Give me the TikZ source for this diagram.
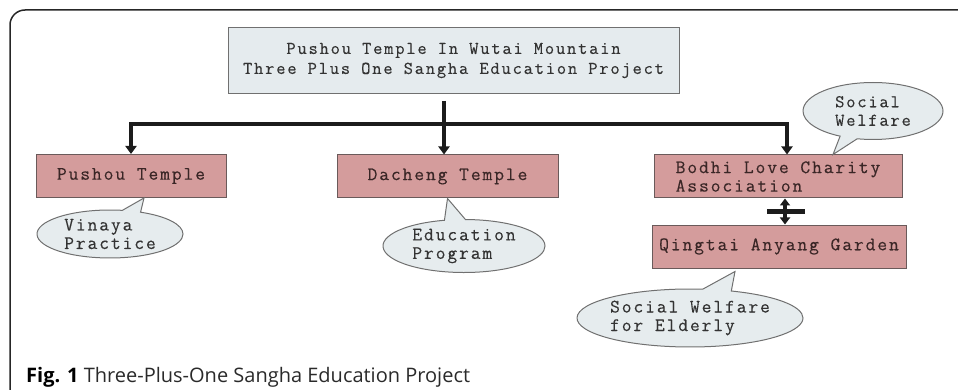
\documentclass[tikz,border=0pt]{standalone}
\usepackage{fontspec}
\newfontfamily\boxfont[LetterSpace=10,FakeBold=0.3]{Latin Modern Mono}
\newfontfamily\topfont[LetterSpace=10,FakeBold=0.3]{Latin Modern Mono}
\newfontfamily\capfont{Open Sans}
\usetikzlibrary{shapes.callouts,arrows.meta,calc}
\definecolor{topfill}{HTML}{E5EBEE}
\definecolor{pinkfill}{HTML}{D49C9C}
\definecolor{bubblefill}{HTML}{E6ECEE}
\definecolor{edgegray}{HTML}{707070}
\definecolor{boxedge}{HTML}{6A5A5A}
\definecolor{txtdark}{HTML}{333333}
\definecolor{pinktext}{HTML}{3A2626}
\definecolor{barcol}{HTML}{1C1C1C}
\definecolor{capcol}{HTML}{2A2A2A}
\begin{document}
\begin{tikzpicture}[x=1pt,y=-1pt,
  topbox/.style={draw=edgegray,fill=topfill,line width=1pt,minimum width=451pt,minimum height=66pt,inner sep=0pt,align=center,font=\topfont\fontsize{18}{20}\selectfont,text=txtdark},
  pinkbox/.style={draw=boxedge,fill=pinkfill,line width=1pt,minimum height=43pt,inner sep=0pt,align=left,font=\boxfont\fontsize{19}{18.5}\selectfont,text=pinktext},
  bubble/.style={ellipse callout,draw=edgegray,fill=bubblefill,line width=1pt,inner sep=0pt,align=left,font=\boxfont\fontsize{19}{18.5}\selectfont,text=txtdark},
  bar/.style={line width=4pt,draw=barcol},
  tipend/.style={-{Triangle[width=11pt,length=8pt]}},
  frame/.style={line width=1.5pt,draw=black!85,rounded corners=15pt}
]
\useasboundingbox (0,0) rectangle (958,390);
\draw[frame] (10,420) -- (10,10) -- (990,10);

\node[topbox] (top) at (453.5,60.5) {Pushou Temple In Wutai Mountain\\Three Plus One Sangha Education Project};

\node[pinkbox,minimum width=190pt] (pushou) at (131,176) {Pushou Temple};
\node[pinkbox,minimum width=221pt] (dacheng) at (447.5,176.5) {Dacheng Temple};
\node[pinkbox,minimum width=248pt] (bodhi) at (778,176.5) {Bodhi Love Charity\\Association};
\node[pinkbox,minimum width=254pt] (qingtai) at (779,246.5) {Qingtai Anyang Garden};

\coordinate (j) at (444,124);
\draw[bar] ($(top.south -| j)+(0,7)$) -- (j);
\draw[bar,tipend] (j) -| (pushou.north);
\draw[bar,tipend] (j) -- (dacheng.north -| j);
\draw[bar,tipend] (j) -| ([xshift=9pt]bodhi.north);

\coordinate (da) at ([xshift=7pt]bodhi.south);
\coordinate (db) at (da |- qingtai.north);
\draw[bar,{Triangle[width=10pt,length=7pt]}-{Triangle[width=10pt,length=7pt]}] (da) -- (db);
\coordinate (dm) at ($(da)!0.5!(db)$);
\draw[line width=5pt,draw=barcol] ([xshift=-18pt]dm) -- ([xshift=20pt]dm);

\coordinate (pv) at ([xshift=13pt]pushou.south);
\coordinate (pe) at (dacheng.south);
\coordinate (ps) at ([xshift=55pt]bodhi.north);
\coordinate (pq) at ([xshift=-44pt,yshift=-3pt]qingtai.south);

\node[bubble,minimum width=146pt,minimum height=48pt,callout absolute pointer={(pv)}] (vinaya) at (110,234) {Vinaya\\Practice};
\node[bubble,minimum width=162pt,minimum height=53pt,callout absolute pointer={(pe)}] (edu) at (464,246) {Education\\Program};
\node[bubble,minimum width=140pt,minimum height=57pt,font=\topfont\fontsize{18}{18.5}\selectfont,callout absolute pointer={(ps)}] (social) at (873,111) {Social\\Welfare};
\node[bubble,minimum width=214pt,minimum height=58pt,callout absolute pointer={(pq)}] (elderly) at (690,318) {Social Welfare\\for Elderly};

\node[anchor=base west,inner sep=0pt,text=capcol,font=\capfont\fontsize{20}{20}\selectfont] (cap) at (26,382) {\textbf{\color{black}Fig. 1} Three-Plus-One Sangha Education Project};
\end{tikzpicture}
\end{document}
